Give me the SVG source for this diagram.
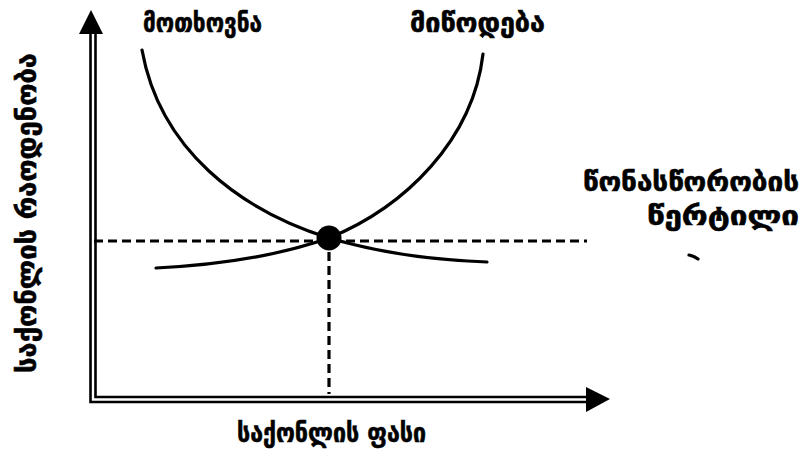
<svg xmlns="http://www.w3.org/2000/svg" width="805" height="451" viewBox="0 0 805 451">
<style>
.t{font-family:"DejaVu Sans","Noto Sans",sans-serif;font-weight:bold;font-size:26px;fill:#000;stroke:#000;stroke-width:0.6}
.ax{fill:none;stroke:#000;stroke-width:2.6}
.cv{fill:none;stroke:#000;stroke-width:3.2;stroke-linecap:round}
.dash{fill:none;stroke:#000;stroke-width:3.2;stroke-dasharray:9 5}
.head{fill:#000}
</style>
<rect width="805" height="451" fill="#fff"/>
<g id="axes">
<path class="ax" d="M90.5,32 V402 H588"/>
<path class="ax" d="M95.5,32 V397 H588"/>
<polygon class="head" points="91,10 103,34 79,34"/>
<polygon class="head" points="610,399 586,387 586,412"/>
</g>
<g id="connectors">
<path class="dash" d="M94,241 H587"/>
<path class="dash" d="M329,252 V394"/>
<path class="cv" d="M142,50 C160,150 240,210 329,238 C380,253 430,260 487,262"/>
<path class="cv" d="M156,268 C220,265 280,255 329,238 C405,207 473,140 483,54"/>
<path class="cv" stroke-width="2.6" d="M689,255 Q694,256 698,259"/>
</g>
<g id="equilibrium"><circle cx="329" cy="238" r="12.5" fill="#000"/></g>
<g id="demand-label"><text class="t" x="143" y="32" textLength="119" lengthAdjust="spacingAndGlyphs">მოთხოვნა</text></g>
<g id="supply-label"><text class="t" x="410" y="32" textLength="135" lengthAdjust="spacingAndGlyphs">მიწოდება</text></g>
<g id="eq-label">
<text class="t" x="583" y="191" textLength="216" lengthAdjust="spacingAndGlyphs">წონასწორობის</text>
<text class="t" x="647" y="225" textLength="152" lengthAdjust="spacingAndGlyphs">წერტილი</text>
</g>
<g id="x-label"><text class="t" x="237" y="442" textLength="189" lengthAdjust="spacingAndGlyphs">საქონლის ფასი</text></g>
<g id="y-label"><text class="t" transform="translate(36,373) rotate(-90)" x="0" y="0" textLength="320" lengthAdjust="spacingAndGlyphs">საქონლის რაოდენობა</text></g>
</svg>
